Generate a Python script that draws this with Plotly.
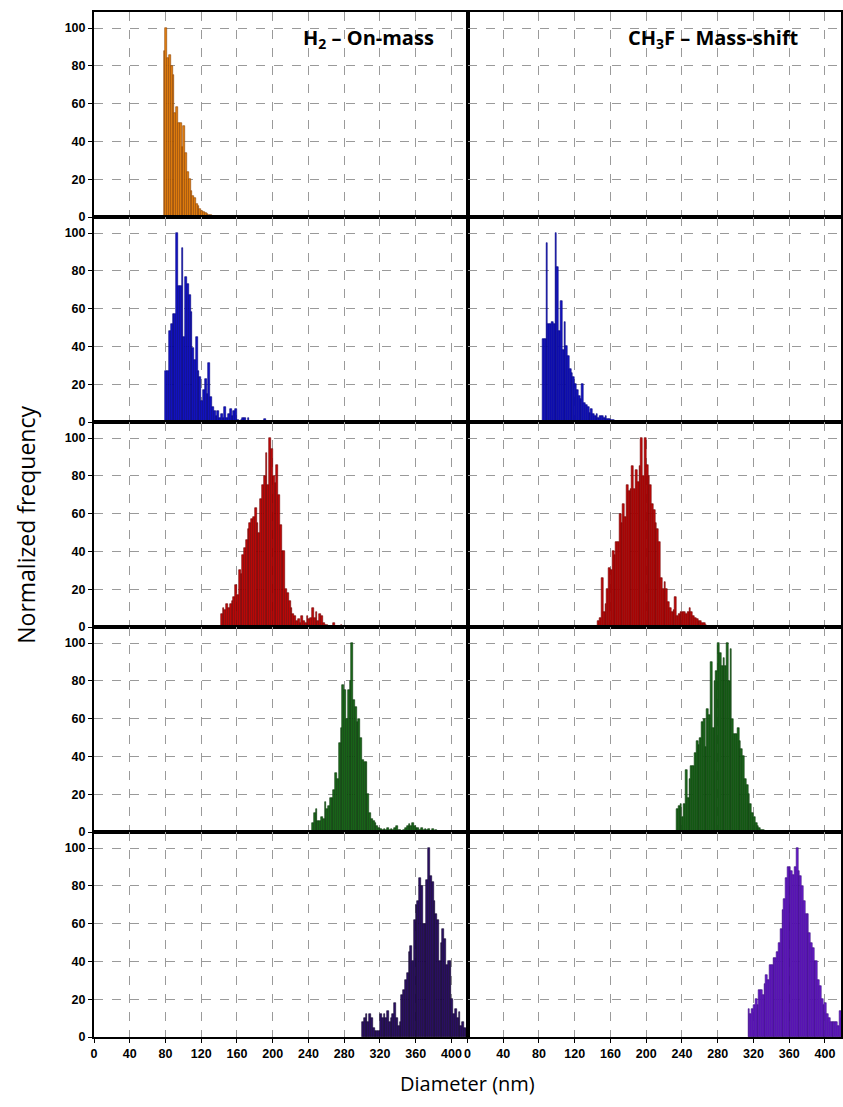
import numpy as np
import plotly.graph_objects as go
from plotly.subplots import make_subplots

BIN = 2  # nm bin width

# ---- H2 - On-mass (left column) ----
h2_r1_start = 78
h2_r1 = [88, 100, 84, 86, 80, 75, 55, 58, 50, 50, 37, 48, 34, 24, 20, 14, 11, 10, 7, 6,
         4, 3, 2.5, 2, 1.5, 1, 0.8, 0.5, 0.4, 0.2]

h2_r2_start = 80
h2_r2 = [27, 27, 48, 52, 57, 57, 100, 72, 72, 92, 45, 77, 73, 67, 58, 39, 33, 45, 27, 24,
         11, 17, 23, 15, 31, 13, 8, 6, 3, 6, 2, 4, 2, 8, 2, 4, 7, 3, 6, 7,
         1, 0, 1, 2, 2, 0.5, 2, 0, 0, 0, 0, 0, 0.5, 0, 0.5, 1.5]

h2_r3_start = 142
h2_r3 = [7, 10, 9, 12, 10, 12, 14, 16, 22, 17, 30, 28, 38, 42, 46, 52, 55, 57, 58, 63,
         55, 50, 68, 75, 80, 92, 75, 100, 94, 80, 76, 86, 70, 54, 40, 40, 20, 18, 14, 10,
         7, 6, 3, 4, 2, 6, 3, 2, 6, 4, 5, 10, 5, 8, 3, 7, 6, 2, 1, 1,
         0.5, 0.5, 0.5, 2, 0.5, 0.3, 0.3, 1]

h2_r4_start = 244
h2_r4 = [5, 10, 12, 6, 6, 8, 7, 16, 12, 14, 18, 18, 22, 31, 28, 47, 55, 78, 75, 60,
         75, 80, 100, 70, 66, 58, 60, 50, 38, 37, 37, 20, 10, 7, 6, 5, 3, 2, 1.5, 1,
         1.5, 1, 2, 1, 1.5, 1, 2, 3, 1, 1, 0.5, 1, 2, 3, 4, 3, 5, 3, 2, 2,
         1, 2, 1, 1.5, 1, 1.5, 0.5, 1.5, 0.5, 1, 0.5]

h2_r5_start = 300
h2_r5 = [8, 10, 12, 8, 12, 10, 5, 3, 3, 3, 12, 10, 12, 10, 14, 8, 10, 12, 18, 10,
         6, 8, 22, 25, 30, 34, 45, 48, 40, 62, 70, 72, 84, 80, 60, 60, 83, 100, 85, 82,
         72, 65, 62, 40, 50, 57, 52, 38, 40, 40, 20, 12, 15, 10, 13, 6, 8, 5, 4]

# ---- CH3F - Mass-shift (right column) ----
ch3f_r2_start = 84
ch3f_r2 = [44, 44, 95, 52, 52, 53, 52, 100, 82, 48, 64, 38, 53, 40, 35, 28, 26, 24, 20, 17,
           14, 12, 20, 10, 9, 8, 5, 7, 4, 3, 4, 2, 3, 3, 2, 3, 1.5, 1.5, 1, 1,
           0.5, 0.5, 0.5, 0.3, 0.3, 0.3, 0, 0, 0, 0, 0, 0, 0, 0.3]

ch3f_r3_start = 146
ch3f_r3 = [3, 5, 26, 8, 12, 20, 31, 30, 40, 38, 45, 45, 60, 55, 65, 58, 75, 72, 73, 85,
           73, 83, 77, 85, 100, 80, 100, 86, 80, 75, 65, 62, 55, 52, 45, 26, 20, 24, 20, 13,
           10, 8, 9, 16, 6, 7, 8, 8, 8, 7, 8, 10, 8, 6, 5, 4, 3, 3, 2, 2, 1]

ch3f_r4_start = 234
ch3f_r4 = [12, 14, 15, 8, 15, 33, 18, 28, 35, 35, 42, 48, 46, 50, 58, 60, 45, 65, 62, 90,
           55, 80, 85, 100, 95, 88, 92, 88, 100, 80, 97, 60, 52, 52, 55, 48, 44, 40, 28, 25,
           20, 15, 10, 8, 5, 3, 2, 1, 1]

ch3f_r5_start = 314
ch3f_r5 = [15, 12, 15, 17, 20, 17, 25, 25, 22, 28, 33, 30, 38, 38, 42, 42, 45, 50, 57, 67,
           73, 84, 90, 90, 88, 86, 90, 100, 88, 85, 80, 72, 65, 65, 55, 50, 47, 40, 40, 30,
           27, 20, 17, 18, 12, 10, 8, 8, 8, 8, 6, 14, 10]

X_TICKS = [0, 40, 80, 120, 160, 200, 240, 280, 320, 360, 400]
Y_TICKS = [0, 20, 40, 60, 80, 100]

panels = [
    # (row, col, start, values, fill, outline)
    (1, 1, h2_r1_start, h2_r1, "#E8820F", "#8a4200"),
    (2, 1, h2_r2_start, h2_r2, "#1414C8", "#00007a"),
    (3, 1, h2_r3_start, h2_r3, "#C40808", "#6e0000"),
    (4, 1, h2_r4_start, h2_r4, "#1B6A1B", "#0a360a"),
    (5, 1, h2_r5_start, h2_r5, "#2C1068", "#12052e"),
    (2, 2, ch3f_r2_start, ch3f_r2, "#1414C8", "#00007a"),
    (3, 2, ch3f_r3_start, ch3f_r3, "#C40808", "#6e0000"),
    (4, 2, ch3f_r4_start, ch3f_r4, "#1B6A1B", "#0a360a"),
    (5, 2, ch3f_r5_start, ch3f_r5, "#6A1CD2", "#36087a"),
]

fig = make_subplots(rows=5, cols=2, horizontal_spacing=0, vertical_spacing=0)

for row, col, start, vals, fill, line in panels:
    centers = start + BIN * (np.arange(len(vals)) + 0.5)
    fig.add_trace(go.Bar(x=centers, y=vals, width=BIN,
                         marker=dict(color=fill, line=dict(color=line, width=0.6)),
                         showlegend=False), row=row, col=col)

# empty top-right panel (no CH3F data in first row) - keep its axes drawn
fig.add_trace(go.Bar(x=[], y=[], showlegend=False, hoverinfo="skip"), row=1, col=2)

tickfont = dict(family="Liberation Sans, Arial", size=12.5, color="black", weight="bold")
grid = dict(showgrid=True, gridcolor="#9a9a9a", griddash="dash", gridwidth=1)

for r in range(1, 6):
    for c in range(1, 3):
        fig.update_xaxes(range=[0, 418], tickvals=X_TICKS, showticklabels=(r == 5),
                         ticks="outside" if r == 5 else "", ticklen=4, tickcolor="black",
                         showline=True, mirror=True, linecolor="black", linewidth=2,
                         zeroline=False, tickfont=tickfont, **grid, row=r, col=c)
        fig.update_yaxes(range=[0, 108.5], tickvals=Y_TICKS, showticklabels=(c == 1),
                         ticks="outside" if c == 1 else "", ticklen=4, tickcolor="black",
                         showline=True, mirror=True, linecolor="black", linewidth=2,
                         zeroline=False, tickfont=tickfont, **grid, row=r, col=c)

fig.add_annotation(text="H<sub>2</sub> – On-mass", xref="paper", yref="paper",
                   x=0.458, y=0.9746, xanchor="right", yanchor="middle", showarrow=False,
                   font=dict(family="Open Sans, Liberation Sans", size=20, color="black",
                             weight="bold"))
fig.add_annotation(text="CH<sub>3</sub>F – Mass-shift", xref="paper", yref="paper",
                   x=0.9466, y=0.9746, xanchor="right", yanchor="middle", showarrow=False,
                   font=dict(family="Open Sans, Liberation Sans", size=20, color="black",
                             weight="bold"))
fig.add_annotation(text="Normalized frequency", xref="paper", yref="paper",
                   x=-0.092, y=0.5, textangle=-90, xanchor="center", yanchor="middle",
                   showarrow=False,
                   font=dict(family="Open Sans, Liberation Sans", size=23, color="black"))
fig.add_annotation(text="Diameter (nm)", xref="paper", yref="paper",
                   x=0.5, y=-0.045, xanchor="center", yanchor="middle", showarrow=False,
                   font=dict(family="Open Sans, Liberation Sans", size=20, color="black"))

fig.update_layout(width=843, height=1107, margin=dict(l=94, r=0, t=12, b=70),
                  plot_bgcolor="white", paper_bgcolor="white", bargap=0)

fig.write_html("out.html", config={"displayModeBar": False},
               post_script="document.body.style.margin='0';")
